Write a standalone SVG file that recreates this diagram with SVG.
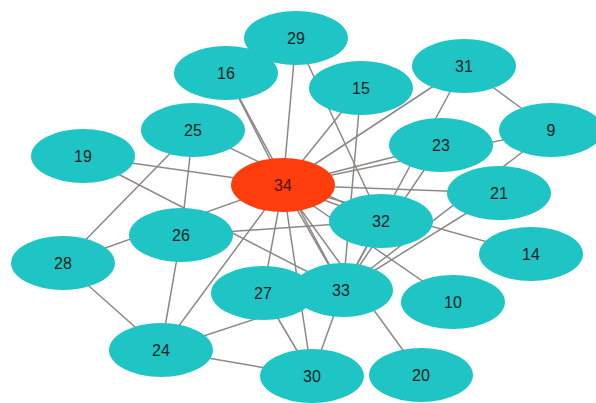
<svg xmlns="http://www.w3.org/2000/svg" width="596" height="403" viewBox="0 0 596 403">
<style>
.e{stroke:#8c8888;stroke-width:1.5;fill:none}
.n ellipse{fill:#1fc4c4;stroke:none}
.hub ellipse{fill:#ff3d0d}
.n text{font-family:"Liberation Sans",Arial,sans-serif;font-size:16px;fill:#0e1e1e;text-anchor:middle}
.hub text{fill:#4a1208}
</style>
<rect width="596" height="403" fill="#ffffff"/>
<g id="edges">
<line class="e" x1="283" y1="185" x2="551" y2="130"/>
<line class="e" x1="283" y1="185" x2="453" y2="302"/>
<line class="e" x1="283" y1="185" x2="531" y2="254"/>
<line class="e" x1="283" y1="185" x2="361" y2="88"/>
<line class="e" x1="283" y1="185" x2="226" y2="73"/>
<line class="e" x1="283" y1="185" x2="83" y2="156"/>
<line class="e" x1="283" y1="185" x2="421" y2="375"/>
<line class="e" x1="283" y1="185" x2="499" y2="193"/>
<line class="e" x1="283" y1="185" x2="441" y2="145"/>
<line class="e" x1="283" y1="185" x2="161" y2="350"/>
<line class="e" x1="283" y1="185" x2="263" y2="293"/>
<line class="e" x1="283" y1="185" x2="63" y2="263"/>
<line class="e" x1="283" y1="185" x2="296" y2="38"/>
<line class="e" x1="283" y1="185" x2="312" y2="376"/>
<line class="e" x1="283" y1="185" x2="464" y2="66"/>
<line class="e" x1="283" y1="185" x2="381" y2="221"/>
<line class="e" x1="283" y1="185" x2="343" y2="290"/>
<line class="e" x1="343" y1="290" x2="551" y2="130"/>
<line class="e" x1="343" y1="290" x2="361" y2="88"/>
<line class="e" x1="343" y1="290" x2="226" y2="73"/>
<line class="e" x1="343" y1="290" x2="83" y2="156"/>
<line class="e" x1="343" y1="290" x2="499" y2="193"/>
<line class="e" x1="343" y1="290" x2="441" y2="145"/>
<line class="e" x1="343" y1="290" x2="161" y2="350"/>
<line class="e" x1="343" y1="290" x2="312" y2="376"/>
<line class="e" x1="343" y1="290" x2="464" y2="66"/>
<line class="e" x1="343" y1="290" x2="381" y2="221"/>
<line class="e" x1="161" y1="350" x2="181" y2="235"/>
<line class="e" x1="161" y1="350" x2="63" y2="263"/>
<line class="e" x1="161" y1="350" x2="312" y2="376"/>
<line class="e" x1="193" y1="130" x2="181" y2="235"/>
<line class="e" x1="193" y1="130" x2="63" y2="263"/>
<line class="e" x1="193" y1="130" x2="381" y2="221"/>
<line class="e" x1="181" y1="235" x2="381" y2="221"/>
<line class="e" x1="263" y1="293" x2="312" y2="376"/>
<line class="e" x1="296" y1="38" x2="381" y2="221"/>
<line class="e" x1="551" y1="130" x2="464" y2="66"/>
</g>
<g id="n16" class="n"><ellipse cx="226" cy="73" rx="52" ry="27"/><text x="226" y="79">16</text></g>
<g id="n29" class="n"><ellipse cx="296" cy="38" rx="52" ry="27"/><text x="296" y="44">29</text></g>
<g id="n15" class="n"><ellipse cx="361" cy="88" rx="52" ry="27"/><text x="361" y="94">15</text></g>
<g id="n31" class="n"><ellipse cx="464" cy="66" rx="52" ry="27"/><text x="464" y="72">31</text></g>
<g id="n9" class="n"><ellipse cx="551" cy="130" rx="52" ry="27"/><text x="551" y="136">9</text></g>
<g id="n25" class="n"><ellipse cx="193" cy="130" rx="52" ry="27"/><text x="193" y="136">25</text></g>
<g id="n19" class="n"><ellipse cx="83" cy="156" rx="52" ry="27"/><text x="83" y="162">19</text></g>
<g id="n23" class="n"><ellipse cx="441" cy="145" rx="52" ry="27"/><text x="441" y="151">23</text></g>
<g id="n21" class="n"><ellipse cx="499" cy="193" rx="52" ry="27"/><text x="499" y="199">21</text></g>
<g id="n34" class="n hub"><ellipse cx="283" cy="185" rx="52" ry="27"/><text x="283" y="191">34</text></g>
<g id="n26" class="n"><ellipse cx="181" cy="235" rx="52" ry="27"/><text x="181" y="241">26</text></g>
<g id="n32" class="n"><ellipse cx="381" cy="221" rx="52" ry="27"/><text x="381" y="227">32</text></g>
<g id="n14" class="n"><ellipse cx="531" cy="254" rx="52" ry="27"/><text x="531" y="260">14</text></g>
<g id="n28" class="n"><ellipse cx="63" cy="263" rx="52" ry="27"/><text x="63" y="269">28</text></g>
<g id="n27" class="n"><ellipse cx="263" cy="293" rx="52" ry="27"/><text x="263" y="299">27</text></g>
<g id="n33" class="n"><ellipse cx="343" cy="290" rx="50" ry="27"/><text x="341" y="296">33</text></g>
<g id="n10" class="n"><ellipse cx="453" cy="302" rx="52" ry="27"/><text x="453" y="308">10</text></g>
<g id="n24" class="n"><ellipse cx="161" cy="350" rx="52" ry="27"/><text x="161" y="356">24</text></g>
<g id="n30" class="n"><ellipse cx="312" cy="376" rx="52" ry="27"/><text x="312" y="382">30</text></g>
<g id="n20" class="n"><ellipse cx="421" cy="375" rx="52" ry="27"/><text x="421" y="381">20</text></g>
</svg>
